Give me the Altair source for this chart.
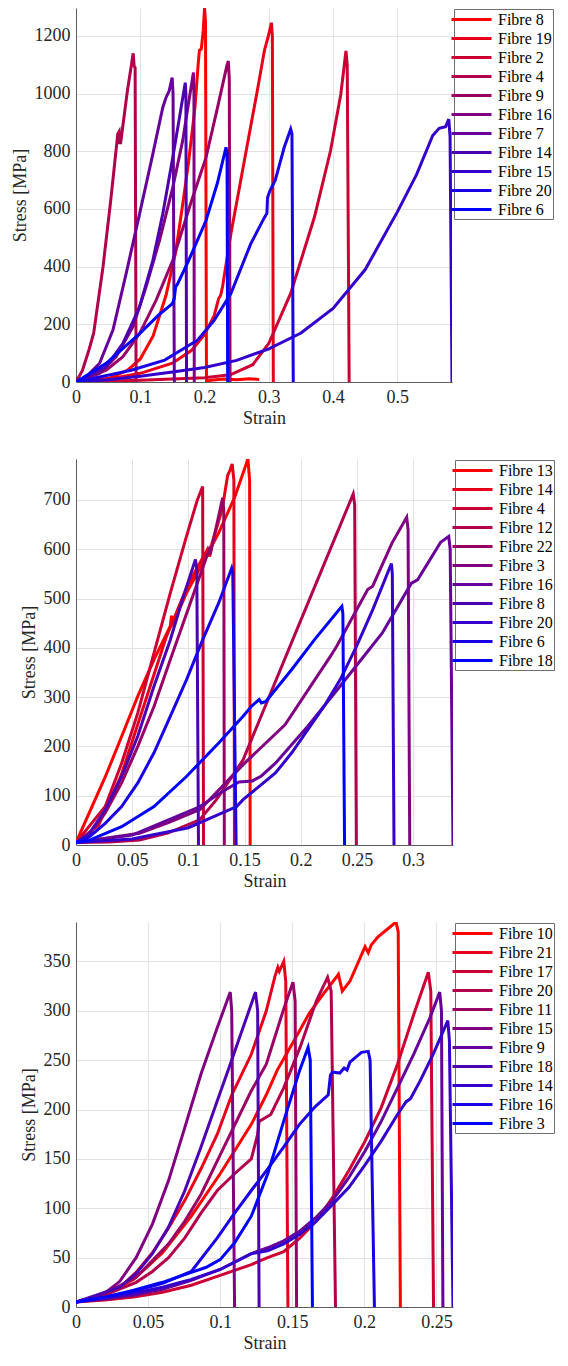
import altair as alt
import pandas as pd

FONT = "Liberation Serif, Times New Roman, serif"
TXT = "#262626"

# ---------------- Panel 1 ----------------
P1_NAMES = ["Fibre 8", "Fibre 19", "Fibre 2", "Fibre 4", "Fibre 9", "Fibre 16",
            "Fibre 7", "Fibre 14", "Fibre 15", "Fibre 20", "Fibre 6"]
P1_STRAIN = [
    [0, 0.05, 0.08, 0.1, 0.12, 0.14, 0.155, 0.165, 0.175, 0.185, 0.19, 0.192, 0.195, 0.198, 0.2, 0.2015, 0.203, 0.21, 0.23, 0.25, 0.27, 0.285],
    [0, 0.05, 0.1, 0.15, 0.18, 0.2, 0.215, 0.222, 0.225, 0.228, 0.241, 0.262, 0.283, 0.293, 0.3, 0.304, 0.3055, 0.307],
    [0, 0.1, 0.2, 0.24, 0.275, 0.3, 0.334, 0.371, 0.396, 0.412, 0.42, 0.422, 0.425],
    [0, 0.01, 0.02, 0.0275, 0.042, 0.054, 0.065, 0.067, 0.0675, 0.0695, 0.08, 0.089, 0.0905, 0.092, 0.0935],
    [0, 0.047, 0.073, 0.0989, 0.1247, 0.1506, 0.1765, 0.2023, 0.22, 0.235, 0.237, 0.2385, 0.2397],
    [0, 0.0367, 0.0626, 0.0885, 0.109, 0.13, 0.1506, 0.166, 0.176, 0.1827, 0.1835, 0.184],
    [0, 0.016, 0.0367, 0.0575, 0.078, 0.0989, 0.1196, 0.135, 0.14, 0.145, 0.1496, 0.151, 0.153],
    [0, 0.047, 0.073, 0.0989, 0.1196, 0.135, 0.1506, 0.161, 0.17, 0.171, 0.172],
    [0, 0.05, 0.1, 0.15, 0.2, 0.25, 0.3, 0.35, 0.4, 0.45, 0.5, 0.53, 0.555, 0.565, 0.575, 0.58, 0.582, 0.585],
    [0, 0.086, 0.138, 0.189, 0.215, 0.241, 0.272, 0.293, 0.297, 0.298, 0.302, 0.31, 0.324, 0.334, 0.336, 0.338],
    [0, 0.047, 0.099, 0.13, 0.15, 0.153, 0.155, 0.158, 0.175, 0.2023, 0.22, 0.2334, 0.235, 0.236],
]
P1_STRESS = [
    [0, 12, 40, 80, 160, 300, 450, 600, 760, 950, 1100, 1150, 1155, 1220, 1297, 1250, 3, 6, 10, 8, 11, 9],
    [0, 10, 30, 65, 110, 165, 230, 290, 300, 330, 514, 768, 1021, 1148, 1206, 1246, 1200, 0],
    [0, 6, 15, 25, 60, 134, 307, 572, 802, 998, 1148, 1100, 0],
    [0, 40, 110, 169, 399, 629, 860, 868, 830, 830, 1010, 1140, 1095, 1090, 0],
    [0, 41, 88, 168, 284, 422, 606, 779, 950, 1100, 1113, 1050, 0],
    [0, 30, 88, 191, 330, 491, 675, 837, 980, 1073, 1000, 0],
    [0, 18, 65, 180, 376, 583, 791, 952, 986, 1010, 1056, 1000, 0],
    [0, 53, 134, 260, 422, 583, 779, 917, 1038, 1000, 0],
    [0, 8, 20, 35, 50, 75, 115, 170, 255, 390, 590, 720, 855, 880, 885, 912, 850, 0],
    [0, 41, 76, 145, 214, 307, 480, 570, 585, 640, 665, 700, 814, 877, 860, 0],
    [0, 65, 168, 235, 272, 290, 330, 340, 420, 560, 690, 814, 790, 0],
]
P1_XTICKS = [0, 0.1, 0.2, 0.3, 0.4, 0.5]
P1_YTICKS = [0, 200, 400, 600, 800, 1000, 1200]

# ---------------- Panel 2 ----------------
P2_NAMES = ["Fibre 13", "Fibre 14", "Fibre 4", "Fibre 12", "Fibre 22", "Fibre 3",
            "Fibre 16", "Fibre 8", "Fibre 20", "Fibre 6", "Fibre 18"]
P2_STRAIN = [
    [0, 0.0262, 0.0406, 0.055, 0.0694, 0.0839, 0.085, 0.0865, 0.0983, 0.1127, 0.127, 0.1415, 0.153, 0.1545, 0.155],
    [0, 0.02, 0.04, 0.06, 0.08, 0.1, 0.117, 0.119, 0.121, 0.13, 0.135, 0.137, 0.139, 0.1405, 0.141],
    [0, 0.026, 0.0406, 0.055, 0.0694, 0.0839, 0.0983, 0.108, 0.1127, 0.1135],
    [0, 0.03, 0.0565, 0.0816, 0.11, 0.125, 0.143, 0.1487, 0.1977, 0.2467, 0.248, 0.2495],
    [0, 0.0117, 0.026, 0.0406, 0.055, 0.0694, 0.0839, 0.107, 0.1184, 0.1195, 0.1305, 0.1315, 0.132],
    [0, 0.0565, 0.0816, 0.1104, 0.1487, 0.186, 0.2265, 0.232, 0.2596, 0.264, 0.2813, 0.2943, 0.2955, 0.297],
    [0, 0.05, 0.1104, 0.13, 0.145, 0.157, 0.165, 0.1775, 0.2063, 0.235, 0.2726, 0.2985, 0.304, 0.3245, 0.3317, 0.333, 0.3355],
    [0, 0.012, 0.026, 0.0406, 0.055, 0.0694, 0.0839, 0.095, 0.1063, 0.1075, 0.109],
    [0, 0.05, 0.1, 0.143, 0.1487, 0.163, 0.1775, 0.192, 0.2063, 0.2207, 0.235, 0.2496, 0.264, 0.2807, 0.2815, 0.283],
    [0, 0.012, 0.026, 0.0406, 0.055, 0.0694, 0.0839, 0.0983, 0.1127, 0.127, 0.1386, 0.1395, 0.1425],
    [0, 0.012, 0.0406, 0.0694, 0.0983, 0.127, 0.1487, 0.156, 0.163, 0.165, 0.169, 0.192, 0.2121, 0.2366, 0.2375, 0.239],
]
P2_STRESS = [
    [5, 139, 220, 302, 376, 444, 465, 450, 511, 572, 633, 707, 783, 740, 0],
    [5, 40, 140, 280, 420, 530, 600, 585, 612, 680, 750, 760, 773, 740, 0],
    [5, 78, 166, 268, 389, 511, 626, 700, 727, 0],
    [5, 6, 10, 24, 51, 92, 153, 173, 443, 712, 690, 0],
    [5, 20, 65, 126, 200, 281, 376, 525, 599, 590, 704, 680, 0],
    [5, 24, 45, 72, 163, 244, 383, 403, 518, 525, 613, 665, 640, 0],
    [5, 20, 78, 108, 128, 130, 140, 166, 241, 322, 430, 531, 538, 614, 626, 600, 0],
    [5, 24, 71, 139, 221, 322, 416, 500, 579, 560, 0],
    [5, 12, 35, 78, 92, 119, 146, 187, 234, 281, 335, 403, 477, 571, 550, 0],
    [5, 17, 44, 78, 126, 187, 261, 335, 416, 491, 562, 555, 0],
    [5, 10, 37, 78, 139, 207, 261, 281, 295, 288, 291, 356, 416, 484, 470, 0],
]
P2_XTICKS = [0, 0.05, 0.1, 0.15, 0.2, 0.25, 0.3]
P2_YTICKS = [0, 100, 200, 300, 400, 500, 600, 700]

# ---------------- Panel 3 ----------------
P3_NAMES = ["Fibre 10", "Fibre 21", "Fibre 17", "Fibre 20", "Fibre 11", "Fibre 15",
            "Fibre 9", "Fibre 18", "Fibre 14", "Fibre 16", "Fibre 3"]
P3_STRAIN = [
    [0, 0.02, 0.04, 0.06, 0.08, 0.1, 0.1216, 0.132, 0.1396, 0.1509, 0.162, 0.172, 0.18, 0.182, 0.1847, 0.19, 0.2005, 0.2027, 0.2049, 0.2095, 0.222, 0.2235, 0.225],
    [0, 0.0191, 0.0304, 0.0417, 0.053, 0.0642, 0.0755, 0.0867, 0.098, 0.1081, 0.1216, 0.132, 0.138, 0.14, 0.141, 0.1441, 0.1455, 0.147],
    [0, 0.02, 0.04, 0.06, 0.08, 0.1, 0.1216, 0.1329, 0.1441, 0.1554, 0.1667, 0.178, 0.1892, 0.2005, 0.2117, 0.223, 0.2342, 0.2444, 0.2461, 0.248],
    [0, 0.02, 0.0417, 0.053, 0.0642, 0.0755, 0.0867, 0.098, 0.11, 0.1216, 0.126, 0.127, 0.1351, 0.1441, 0.1554, 0.1667, 0.1745, 0.177, 0.18],
    [0, 0.0191, 0.0417, 0.053, 0.0642, 0.0755, 0.0867, 0.098, 0.1216, 0.132, 0.1441, 0.1505, 0.152, 0.153],
    [0, 0.0191, 0.0304, 0.0417, 0.053, 0.0642, 0.0755, 0.0867, 0.098, 0.107, 0.108, 0.11],
    [0, 0.02, 0.04, 0.06, 0.08, 0.1, 0.1216, 0.1329, 0.1441, 0.1554, 0.1667, 0.178, 0.1892, 0.2005, 0.2117, 0.223, 0.2342, 0.2455, 0.2523, 0.2535, 0.2545],
    [0, 0.0304, 0.0417, 0.053, 0.0642, 0.0755, 0.0867, 0.098, 0.107, 0.1137, 0.1245, 0.126, 0.127],
    [0, 0.02, 0.04, 0.06, 0.08, 0.1, 0.1216, 0.1329, 0.1441, 0.1554, 0.1667, 0.178, 0.1892, 0.2005, 0.2117, 0.223, 0.229, 0.232, 0.2387, 0.2477, 0.2579, 0.259, 0.2615],
    [0, 0.02, 0.04, 0.06, 0.08, 0.098, 0.11, 0.1216, 0.133, 0.144, 0.155, 0.166, 0.175, 0.1765, 0.178, 0.183, 0.186, 0.188, 0.19, 0.198, 0.2027, 0.204, 0.207],
    [0, 0.02, 0.04, 0.06, 0.08, 0.09, 0.1, 0.11, 0.1216, 0.133, 0.144, 0.155, 0.161, 0.1625, 0.164],
]
P3_STRESS = [
    [5, 12, 28, 55, 92, 135, 185, 215, 240, 269, 298, 318, 333, 337, 320, 330, 365, 359, 367, 375, 390, 380, 0],
    [5, 12, 20, 35, 55, 80, 108, 140, 175, 215, 256, 300, 335, 344, 340, 350, 330, 0],
    [5, 7, 10, 15, 22, 32, 43, 50, 56, 70, 87, 111, 138, 168, 202, 246, 296, 339, 320, 0],
    [5, 12, 25, 36, 50, 70, 95, 118, 135, 150, 175, 188, 195, 222, 263, 310, 334, 320, 0],
    [5, 13, 30, 47, 64, 87, 114, 148, 219, 246, 302, 329, 310, 0],
    [5, 13, 26, 50, 84, 128, 182, 236, 283, 319, 300, 0],
    [5, 8, 12, 18, 27, 38, 54, 60, 67, 77, 91, 108, 131, 158, 188, 222, 256, 293, 319, 300, 0],
    [5, 20, 34, 54, 81, 118, 162, 209, 246, 274, 319, 300, 0],
    [5, 9, 14, 20, 28, 38, 54, 57, 64, 74, 87, 104, 121, 144, 168, 195, 208, 211, 229, 256, 290, 270, 0],
    [5, 10, 16, 24, 36, 70, 95, 118, 140, 162, 185, 203, 215, 235, 238, 237, 242, 240, 248, 258, 259, 250, 0],
    [5, 10, 17, 25, 35, 40, 48, 65, 92, 135, 188, 239, 263, 250, 0],
]
P3_XTICKS = [0, 0.05, 0.1, 0.15, 0.2, 0.25]
P3_YTICKS = [0, 50, 100, 150, 200, 250, 300, 350]


def colours(n):
    return ["#%02x00%02x" % (round(255 * (1 - k / (n - 1))), round(255 * k / (n - 1)))
            for k in range(n)]


def frame(names, strain, stress):
    rows = []
    for name, xs, ys in zip(names, strain, stress):
        for k, (x, y) in enumerate(zip(xs, ys)):
            rows.append({"Fibre": name, "Strain": x, "Stress": y, "k": k})
    return pd.DataFrame(rows)


def panel(names, strain, stress, xmax, ymax, xticks, yticks, w, h):
    df = frame(names, strain, stress)
    return alt.Chart(df).mark_line(strokeWidth=3, clip=True).encode(
        x=alt.X("Strain:Q",
                scale=alt.Scale(domain=[0, xmax], nice=False),
                axis=alt.Axis(values=xticks, format="~r", title="Strain")),
        y=alt.Y("Stress:Q",
                scale=alt.Scale(domain=[0, ymax], nice=False),
                axis=alt.Axis(values=yticks, format="~r", title="Stress [MPa]")),
        color=alt.Color("Fibre:N",
                        scale=alt.Scale(domain=names, range=colours(len(names))),
                        sort=names,
                        legend=alt.Legend(title=None, orient="none",
                                          legendX=w + 2, legendY=1)),
        order=alt.Order("k:Q"),
    ).properties(width=w, height=h)


c1 = panel(P1_NAMES, P1_STRAIN, P1_STRESS, 0.585, 1297, P1_XTICKS, P1_YTICKS, 376, 374)
c2 = panel(P2_NAMES, P2_STRAIN, P2_STRESS, 0.3355, 783, P2_XTICKS, P2_YTICKS, 377, 386)
c3 = panel(P3_NAMES, P3_STRAIN, P3_STRESS, 0.2615, 390, P3_XTICKS, P3_YTICKS, 377, 385)

chart = alt.vconcat(c1, c2, c3, spacing=32).resolve_scale(
    color="independent", x="independent", y="independent"
).properties(
    padding={"left": 3, "top": 0, "right": 0, "bottom": 0}
).configure_axis(
    labelFont=FONT, labelFontSize=18, labelColor=TXT,
    titleFont=FONT, titleFontSize=18, titleFontWeight="normal", titleColor=TXT,
    gridColor="#e2e2e2", gridWidth=1,
    domainColor="#5e5e5e", domainWidth=1,
    ticks=False, labelFlush=False,
).configure_axisX(
    labelPadding=6, titlePadding=3,
).configure_axisY(
    labelPadding=6, titlePadding=5,
).configure_view(
    stroke=None,
).configure_legend(
    labelFont=FONT, labelFontSize=16, labelColor="#000000",
    symbolType="M-2.5,0H2.5", symbolSize=256, symbolStrokeWidth=3,
    symbolOffset=7, labelOffset=17,
    strokeColor="#6e6e6e", fillColor="white", padding=1, rowPadding=1,
)

chart.save("out.html", embed_options={"renderer": "svg", "actions": False})
